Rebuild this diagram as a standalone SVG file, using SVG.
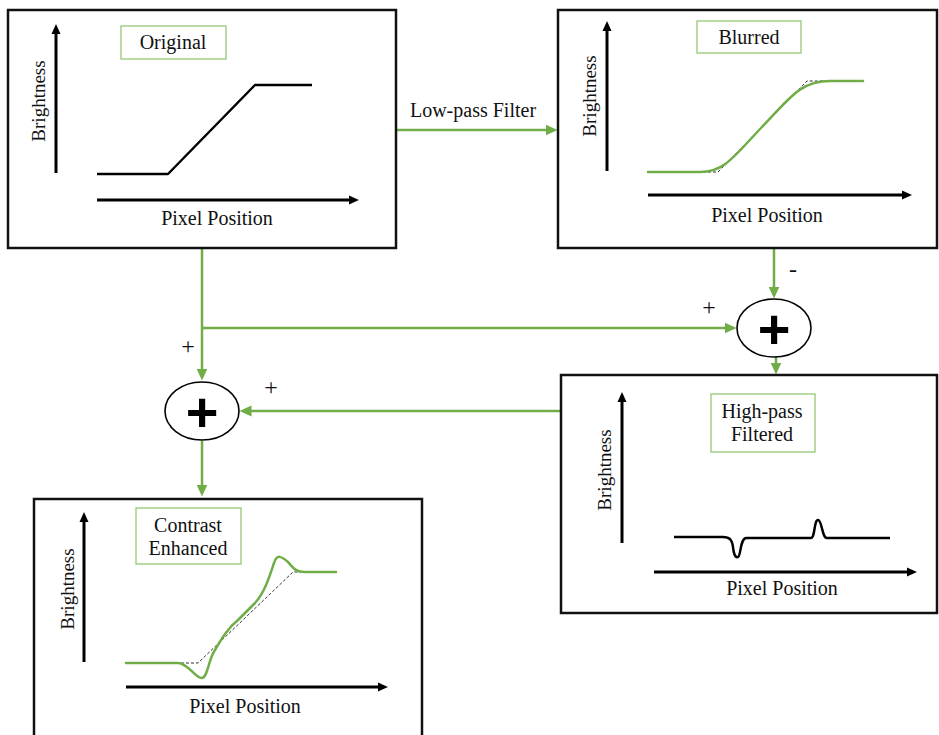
<svg xmlns="http://www.w3.org/2000/svg" width="939" height="735" viewBox="0 0 939 735">
<style>
.box{fill:#fff;stroke:#111;stroke-width:2.5}
.lbl{fill:#fff;stroke:#8cc46a;stroke-width:1.2}
.t{font-family:"Liberation Serif","Times New Roman",serif;font-size:20px;fill:#111}
.px{font-size:20px;text-anchor:middle}
.br{font-size:19px;text-anchor:middle}
.mid{text-anchor:middle}
.axis{stroke:#000;stroke-width:3;fill:none;marker-end:url(#ah)}
.curve{fill:none;stroke:#000;stroke-width:2.5;stroke-linejoin:round}
.gcurve{fill:none;stroke:#70ad47;stroke-width:2.5;stroke-linejoin:round;stroke-linecap:round}
.dash{fill:none;stroke:#333;stroke-width:1;stroke-dasharray:3 2}
.conn{fill:none;stroke:#70ad47;stroke-width:2.5}
.arr{marker-end:url(#gh)}
.sum{fill:#fff;stroke:#000;stroke-width:1.6}
.plus{font-family:"Liberation Sans",Arial,sans-serif;font-weight:bold;font-size:56px;text-anchor:middle;fill:#000}
.sign{font-family:"Liberation Serif","Times New Roman",serif;font-size:24px;text-anchor:middle;fill:#111}
</style>
<defs>
<marker id="ah" markerUnits="userSpaceOnUse" markerWidth="11" markerHeight="10" refX="0" refY="5" orient="auto">
<path d="M0,0.5 L10,5 L0,9.5 z" fill="#000"/>
</marker>
<marker id="gh" markerUnits="userSpaceOnUse" markerWidth="13" markerHeight="12" refX="0.5" refY="6" orient="auto">
<path d="M0,0.5 L12,6 L0,11.5 z" fill="#70ad47"/>
</marker>
</defs>
<rect width="939" height="735" fill="#fff"/>

<g id="connectors">
<path class="conn arr" d="M396,130 L546,130"/>
<path class="conn arr" d="M774,248 L774,287"/>
<path class="conn arr" d="M202,248 L202,369"/>
<path class="conn arr" d="M202,328 L725,328"/>
<path class="conn arr" d="M776,357 L776,363"/>
<path class="conn arr" d="M561,411 L251,411"/>
<path class="conn arr" d="M202,441 L202,485"/>
<text class="t" x="473" y="117" text-anchor="middle">Low-pass Filter</text>
<text class="sign" x="793" y="277">-</text>
<text class="sign" x="709" y="315">+</text>
<text class="sign" x="188" y="354">+</text>
<text class="sign" x="271" y="395">+</text>
</g>

<g id="original">
<rect class="box" x="8" y="10" width="388" height="238"/>
<rect class="lbl" x="121" y="26" width="105" height="33"/>
<text class="t mid" x="173" y="49">Original</text>
<path class="axis" d="M56,173 L56,34"/>
<path class="axis" d="M97,200 L349,200"/>
<text class="t br" transform="translate(45,101) rotate(-90)">Brightness</text>
<text class="t px" x="217" y="225">Pixel Position</text>
<path class="curve" d="M97,174 L168,174 L255,85 L312,85"/>
</g>

<g id="blurred">
<rect class="box" x="558" y="10" width="379" height="238"/>
<rect class="lbl" x="697" y="21" width="104" height="32"/>
<text class="t mid" x="749" y="44">Blurred</text>
<path class="axis" d="M607,171 L607,31"/>
<path class="axis" d="M648,195 L902,195"/>
<text class="t br" transform="translate(596,96) rotate(-90)">Brightness</text>
<text class="t px" x="767" y="222">Pixel Position</text>
<path class="dash" d="M648,172 L718,172 L807,81 L863,81"/>
<path class="gcurve" d="M648,172 L700,172 C725,172 735,155 762,127 C790,98 800,81 830,81 L863,81"/>
</g>

<g id="sum-highpass">
<ellipse class="sum" cx="774" cy="328" rx="37" ry="29"/>
<text class="plus" x="774" y="348">+</text>
</g>

<g id="highpass">
<rect class="box" x="561" y="375" width="376" height="238"/>
<rect class="lbl" x="711" y="394" width="104" height="58"/>
<text class="t mid" x="762" y="418">High-pass</text>
<text class="t mid" x="762" y="441">Filtered</text>
<path class="axis" d="M622,543 L622,402"/>
<path class="axis" d="M654,572 L907,572"/>
<text class="t br" transform="translate(611,470) rotate(-90)">Brightness</text>
<text class="t px" x="782" y="595">Pixel Position</text>
<path class="curve" d="M674,537 L723,537 C730,537 732,540 733,547 C734,556 736,558 738,557 C741,556 740,539 746,538 L811,538 C815,538 814,520 818,520 C822,520 822,538 827,538 L890,538"/>
</g>

<g id="sum-enhance">
<ellipse class="sum" cx="202" cy="411" rx="37" ry="29"/>
<text class="plus" x="202" y="431">+</text>
</g>

<g id="enhanced">
<rect class="box" x="34" y="499" width="388" height="250"/>
<rect class="lbl" x="136" y="508" width="105" height="56"/>
<text class="t mid" x="188" y="532">Contrast</text>
<text class="t mid" x="188" y="555">Enhanced</text>
<path class="axis" d="M84,662 L84,522"/>
<path class="axis" d="M126,687 L378,687"/>
<text class="t br" transform="translate(74,589) rotate(-90)">Brightness</text>
<text class="t px" x="245" y="713">Pixel Position</text>
<path class="dash" d="M126,663 L198,663 L293,572 L336,572"/>
<path class="gcurve" d="M126,663 L178,663 C188,663 196,679 202,678 C208,677 208,660 215,650 C222,638 228,628 238,620 L255,603 C265,592 270,575 274,563 C277,554 281,556 288,562 C294,569 296,572 305,572 L336,572"/>
</g>
</svg>
